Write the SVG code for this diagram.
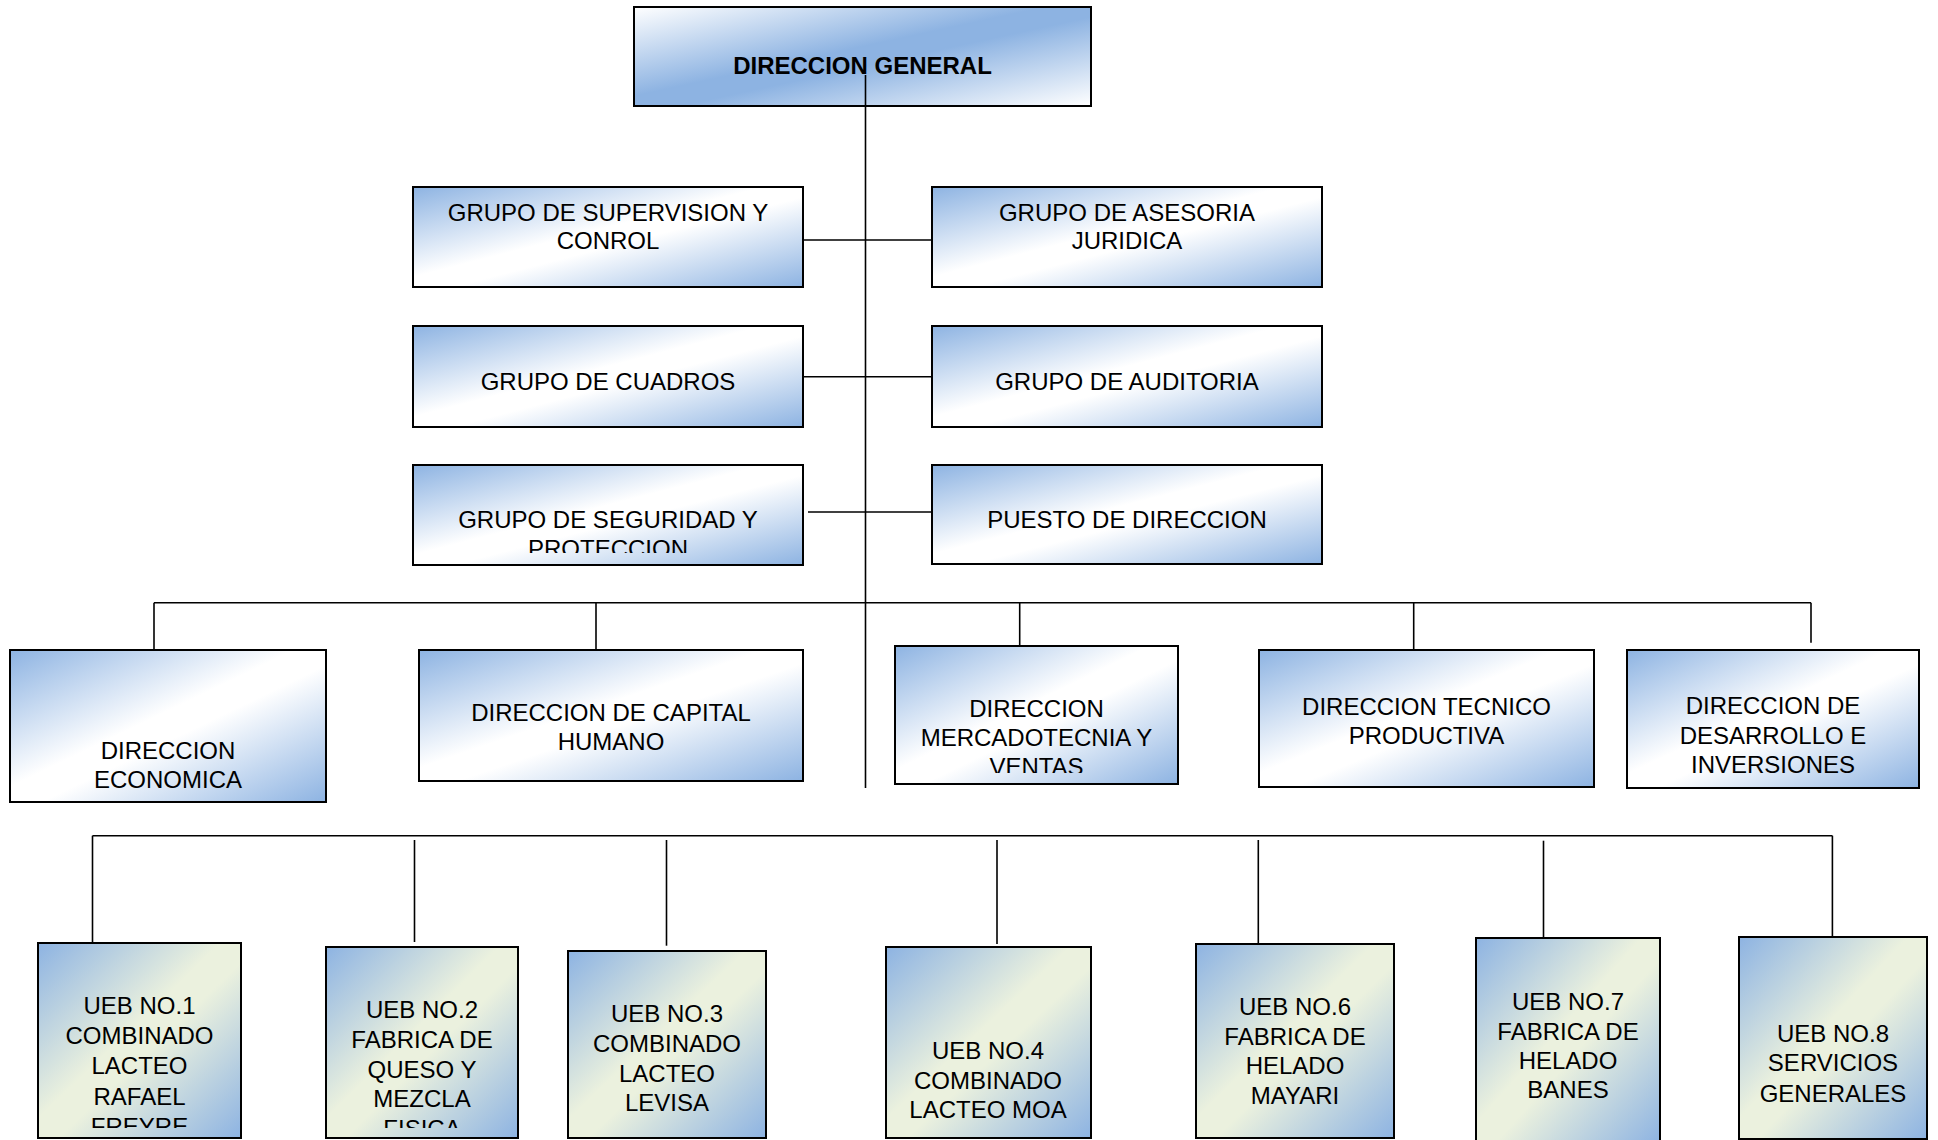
<svg xmlns="http://www.w3.org/2000/svg" width="1938" height="1140" viewBox="0 0 1938 1140">
<defs>
<linearGradient id="gTop" x1="0" y1="0" x2="1" y2="1">
<stop offset="0" stop-color="#FFFFFF"/>
<stop offset="0.45" stop-color="#8DB3E2"/>
<stop offset="0.55" stop-color="#8DB3E2"/>
<stop offset="1" stop-color="#FFFFFF"/>
</linearGradient>
<linearGradient id="gBW" x1="0" y1="0" x2="1" y2="1">
<stop offset="0" stop-color="#8DB3E2"/>
<stop offset="0.45" stop-color="#FFFFFF"/>
<stop offset="0.55" stop-color="#FFFFFF"/>
<stop offset="1" stop-color="#8DB3E2"/>
</linearGradient>
<linearGradient id="gUEB" x1="0" y1="0" x2="1" y2="1">
<stop offset="0" stop-color="#8DB3E2"/>
<stop offset="0.45" stop-color="#EBF1DE"/>
<stop offset="0.55" stop-color="#EBF1DE"/>
<stop offset="1" stop-color="#8DB3E2"/>
</linearGradient>
<clipPath id="cSeg"><rect x="414" y="465" width="388" height="88"/></clipPath>
<clipPath id="cMer"><rect x="896" y="647" width="281" height="126"/></clipPath>
<clipPath id="cU1"><rect x="39" y="944" width="201" height="184"/></clipPath>
<clipPath id="cU2"><rect x="327" y="948" width="190" height="180"/></clipPath>
</defs>
<style>
.bw{fill:url(#gBW);stroke:#000;stroke-width:2}
.top{fill:url(#gTop);stroke:#000;stroke-width:2}
.ueb{fill:url(#gUEB);stroke:#000;stroke-width:2}
.t{font-family:"Liberation Sans",Arial,sans-serif;font-size:24px;text-anchor:middle;fill:#000}
.b{font-weight:bold}
.conn line{stroke:#000;stroke-width:1.6}
</style>

<g id="n-direccion-general">
<rect class="top" x="634" y="7" width="457" height="99"/>
<text class="t b" x="862.5" y="74">DIRECCION GENERAL</text>
</g>

<g id="n-supervision">
<rect class="bw" x="413" y="187" width="390" height="100"/>
<text class="t" x="608" y="221">GRUPO DE SUPERVISION Y</text>
<text class="t" x="608" y="249.3">CONROL</text>
</g>
<g id="n-asesoria">
<rect class="bw" x="932" y="187" width="390" height="100"/>
<text class="t" x="1127" y="221">GRUPO DE ASESORIA</text>
<text class="t" x="1127" y="249.3">JURIDICA</text>
</g>
<g id="n-cuadros">
<rect class="bw" x="413" y="326" width="390" height="101"/>
<text class="t" x="608" y="390">GRUPO DE CUADROS</text>
</g>
<g id="n-auditoria">
<rect class="bw" x="932" y="326" width="390" height="101"/>
<text class="t" x="1127" y="390">GRUPO DE AUDITORIA</text>
</g>
<g id="n-seguridad">
<rect class="bw" x="413" y="465" width="390" height="100"/>
<g clip-path="url(#cSeg)">
<text class="t" x="608" y="528.3">GRUPO DE SEGURIDAD Y</text>
<text class="t" x="608" y="557">PROTECCION</text>
</g>
</g>
<g id="n-puesto">
<rect class="bw" x="932" y="465" width="390" height="99"/>
<text class="t" x="1127" y="528.3">PUESTO DE DIRECCION</text>
</g>

<g id="n-economica">
<rect class="bw" x="10" y="650" width="316" height="152"/>
<text class="t" x="168" y="759.3">DIRECCION</text>
<text class="t" x="168" y="787.7">ECONOMICA</text>
</g>
<g id="n-capital">
<rect class="bw" x="419" y="650" width="384" height="131"/>
<text class="t" x="611" y="720.5">DIRECCION DE CAPITAL</text>
<text class="t" x="611" y="749.5">HUMANO</text>
</g>
<g id="n-mercadotecnia">
<rect class="bw" x="895" y="646" width="283" height="138"/>
<g clip-path="url(#cMer)">
<text class="t" x="1036.5" y="717">DIRECCION</text>
<text class="t" x="1036.5" y="746">MERCADOTECNIA Y</text>
<text class="t" x="1036.5" y="775">VENTAS</text>
</g>
</g>
<g id="n-tecnico">
<rect class="bw" x="1259" y="650" width="335" height="137"/>
<text class="t" x="1426.5" y="714.5">DIRECCION TECNICO</text>
<text class="t" x="1426.5" y="743.5">PRODUCTIVA</text>
</g>
<g id="n-desarrollo">
<rect class="bw" x="1627" y="650" width="292" height="138"/>
<text class="t" x="1773" y="714">DIRECCION DE</text>
<text class="t" x="1773" y="743.5">DESARROLLO E</text>
<text class="t" x="1773" y="773">INVERSIONES</text>
</g>

<g id="n-ueb1">
<rect class="ueb" x="38" y="943" width="203" height="195"/>
<g clip-path="url(#cU1)">
<text class="t" x="139.5" y="1014">UEB NO.1</text>
<text class="t" x="139.5" y="1044.3">COMBINADO</text>
<text class="t" x="139.5" y="1074.4">LACTEO</text>
<text class="t" x="139.5" y="1104.5">RAFAEL</text>
<text class="t" x="139.5" y="1134.6">FREYRE</text>
</g>
</g>
<g id="n-ueb2">
<rect class="ueb" x="326" y="947" width="192" height="191"/>
<g clip-path="url(#cU2)">
<text class="t" x="422" y="1018">UEB NO.2</text>
<text class="t" x="422" y="1048">FABRICA DE</text>
<text class="t" x="422" y="1077.7">QUESO Y</text>
<text class="t" x="422" y="1107.4">MEZCLA</text>
<text class="t" x="422" y="1137">FISICA</text>
</g>
</g>
<g id="n-ueb3">
<rect class="ueb" x="568" y="951" width="198" height="187"/>
<text class="t" x="667" y="1022">UEB NO.3</text>
<text class="t" x="667" y="1052">COMBINADO</text>
<text class="t" x="667" y="1081.5">LACTEO</text>
<text class="t" x="667" y="1111">LEVISA</text>
</g>
<g id="n-ueb4">
<rect class="ueb" x="886" y="947" width="205" height="191"/>
<text class="t" x="988" y="1059">UEB NO.4</text>
<text class="t" x="988" y="1088.6">COMBINADO</text>
<text class="t" x="988" y="1118.4">LACTEO MOA</text>
</g>
<g id="n-ueb6">
<rect class="ueb" x="1196" y="944" width="198" height="194"/>
<text class="t" x="1295" y="1015">UEB NO.6</text>
<text class="t" x="1295" y="1044.5">FABRICA DE</text>
<text class="t" x="1295" y="1074">HELADO</text>
<text class="t" x="1295" y="1103.5">MAYARI</text>
</g>
<g id="n-ueb7">
<rect class="ueb" x="1476" y="938" width="184" height="206"/>
<text class="t" x="1568" y="1010">UEB NO.7</text>
<text class="t" x="1568" y="1039.5">FABRICA DE</text>
<text class="t" x="1568" y="1069">HELADO</text>
<text class="t" x="1568" y="1098.3">BANES</text>
</g>
<g id="n-ueb8">
<rect class="ueb" x="1739" y="937" width="188" height="202"/>
<text class="t" x="1833" y="1041.5">UEB NO.8</text>
<text class="t" x="1833" y="1071.3">SERVICIOS</text>
<text class="t" x="1833" y="1101.5">GENERALES</text>
</g>

<g id="connectors" class="conn">
<line x1="865.5" y1="75" x2="865.5" y2="788"/>
<line x1="803" y1="240" x2="932" y2="240"/>
<line x1="803" y1="376.7" x2="932" y2="376.7"/>
<line x1="808" y1="512" x2="932" y2="512"/>
<line x1="154" y1="602.7" x2="1811" y2="602.7"/>
<line x1="154" y1="602.7" x2="154" y2="650"/>
<line x1="596" y1="602.7" x2="596" y2="650"/>
<line x1="1019.7" y1="602.7" x2="1019.7" y2="646"/>
<line x1="1413.7" y1="602.7" x2="1413.7" y2="650"/>
<line x1="1811" y1="602.7" x2="1811" y2="642.7"/>
<line x1="92.5" y1="835.7" x2="1832.4" y2="835.7"/>
<line x1="92.5" y1="835.7" x2="92.5" y2="943"/>
<line x1="414.5" y1="840" x2="414.5" y2="942"/>
<line x1="666.5" y1="840" x2="666.5" y2="945.7"/>
<line x1="997" y1="840" x2="997" y2="944"/>
<line x1="1258.3" y1="840" x2="1258.3" y2="944"/>
<line x1="1543.5" y1="840.7" x2="1543.5" y2="938"/>
<line x1="1832.4" y1="835.7" x2="1832.4" y2="937"/>
</g>
</svg>
